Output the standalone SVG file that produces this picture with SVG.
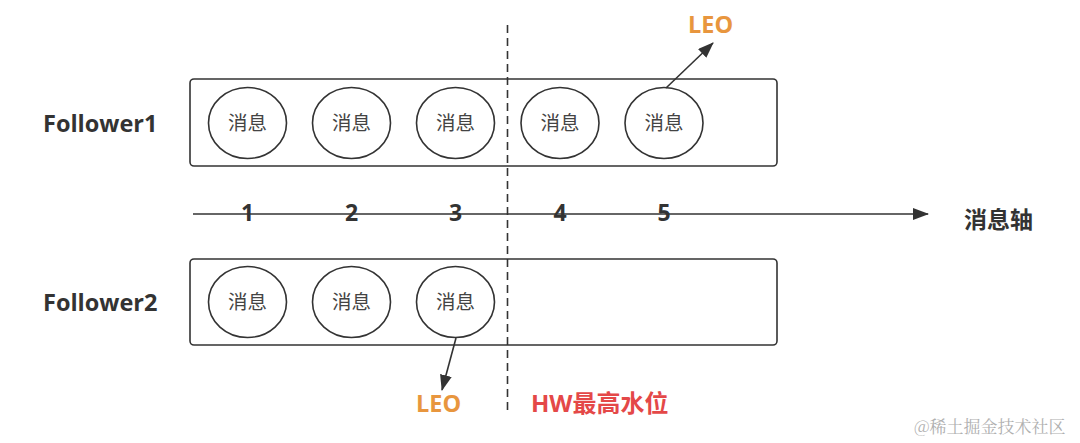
<svg xmlns="http://www.w3.org/2000/svg" width="1080" height="443" viewBox="0 0 1080 443">
<style>
.box{fill:none;stroke:#333;stroke-width:1.6}
.msg{fill:#fff;stroke:#333;stroke-width:1.6}
.mt{font-family:"Noto Sans CJK SC",sans-serif;font-size:19.5px;fill:#444;text-anchor:middle}
.lbl{font-family:"Open Sans","Noto Sans CJK SC",sans-serif;font-weight:bold;font-size:23.5px;fill:#333}
.ax{font-family:"Noto Sans CJK SC",sans-serif;font-weight:bold;font-size:23px;fill:#333}
.num{font-family:"Open Sans",sans-serif;font-weight:bold;font-size:23px;fill:#333;text-anchor:middle}
.leo{font-family:"Open Sans",sans-serif;font-weight:bold;font-size:23.5px;fill:#E8963E}
.hw{font-family:"Open Sans","Noto Sans CJK SC",sans-serif;font-weight:bold;font-size:24px;fill:#E44848}
.ln{stroke:#333;stroke-width:1.6;fill:none}
.wm{font-family:"Noto Serif CJK SC","Noto Sans CJK SC",serif;font-size:17px;fill:#b0b0b0}
</style>
<defs>
<marker id="ah2" markerWidth="16" markerHeight="12" refX="15" refY="6" orient="auto" markerUnits="userSpaceOnUse" viewBox="0 0 16 12">
<path d="M0,0 L16,6 L0,12 z" fill="#333"/>
</marker>
</defs>
<rect width="1080" height="443" fill="#fff"/>

<g id="follower1">
<text class="lbl" x="43" y="132">Follower1</text>
<rect class="box" x="190" y="79" width="587" height="87" rx="4"/>
</g>
<g id="follower2">
<text class="lbl" x="43" y="311">Follower2</text>
<rect class="box" x="190" y="259" width="587" height="86" rx="4"/>
</g>

<g id="f1-m1"><ellipse class="msg" cx="247.5" cy="123" rx="39" ry="35.5"/><text class="mt" x="247.5" y="130">消息</text></g>
<g id="f1-m2"><ellipse class="msg" cx="351.5" cy="123" rx="39" ry="35.5"/><text class="mt" x="351.5" y="130">消息</text></g>
<g id="f1-m3"><ellipse class="msg" cx="455.5" cy="123" rx="39" ry="35.5"/><text class="mt" x="455.5" y="130">消息</text></g>
<g id="f1-m4"><ellipse class="msg" cx="560" cy="123" rx="39" ry="35.5"/><text class="mt" x="560" y="130">消息</text></g>
<g id="f1-m5"><ellipse class="msg" cx="664" cy="123" rx="39" ry="35.5"/><text class="mt" x="664" y="130">消息</text></g>

<g id="f2-m1"><ellipse class="msg" cx="247.5" cy="302" rx="39" ry="35.5"/><text class="mt" x="247.5" y="309">消息</text></g>
<g id="f2-m2"><ellipse class="msg" cx="351.5" cy="302" rx="39" ry="35.5"/><text class="mt" x="351.5" y="309">消息</text></g>
<g id="f2-m3"><ellipse class="msg" cx="455.5" cy="302" rx="39" ry="35.5"/><text class="mt" x="455.5" y="309">消息</text></g>

<g id="axis">
<text class="num" x="247.5" y="221">1</text>
<text class="num" x="351.5" y="221">2</text>
<text class="num" x="455.5" y="221">3</text>
<text class="num" x="560" y="221">4</text>
<text class="num" x="664" y="221">5</text>
<text class="ax" x="964" y="228">消息轴</text>
</g>

<g id="leo-top"><text class="leo" x="688" y="33">LEO</text></g>
<g id="leo-bottom"><text class="leo" x="416" y="412">LEO</text></g>
<g id="hw"><text class="hw" x="531" y="412">HW最高水位</text></g>

<g id="connectors">
<line class="ln" x1="193" y1="214" x2="928" y2="214" marker-end="url(#ah2)"/>
<line class="ln" x1="507.5" y1="25" x2="507.5" y2="413" stroke-dasharray="8,5"/>
<line class="ln" x1="666" y1="88" x2="713" y2="43" marker-end="url(#ah2)"/>
<line class="ln" x1="456" y1="338" x2="442" y2="390" marker-end="url(#ah2)"/>
</g>

<text class="wm" x="914" y="433">@稀土掘金技术社区</text>
</svg>
